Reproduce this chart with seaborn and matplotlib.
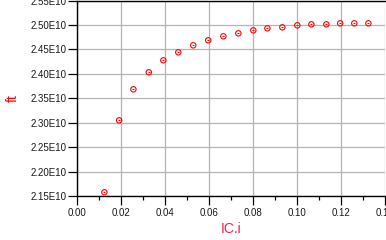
import matplotlib
matplotlib.use("Agg")
import matplotlib.pyplot as plt
from matplotlib.ticker import FuncFormatter, MultipleLocator
import seaborn as sns
import pandas as pd

# data
ic = [0.0123, 0.0190, 0.0255, 0.0325, 0.0391, 0.0459, 0.0527, 0.0595, 0.0664,
      0.0732, 0.0800, 0.0864, 0.0932, 0.1000, 0.1064, 0.1132, 0.1195, 0.1259, 0.1323]
ft = [2.1576, 2.3049, 2.3684, 2.4032, 2.4277, 2.4441, 2.4584, 2.4687, 2.4769,
      2.4830, 2.4891, 2.4932, 2.4953, 2.4994, 2.5014, 2.5014, 2.5035, 2.5035, 2.5035]
ft = [v * 1e10 for v in ft]
df = pd.DataFrame({"IC.i": ic, "ft": ft})

sns.set_style("white")
plt.rcParams["font.family"] = ["Liberation Sans", "DejaVu Sans"]

fig = plt.figure(figsize=(3.86, 2.40), dpi=100)
ax = fig.add_axes([77.3 / 386, 44 / 240, 308 / 386, 195.4 / 240])

sns.scatterplot(data=df, x="IC.i", y="ft", ax=ax, marker="o", s=15,
                facecolor="none", edgecolor="#ff0000", linewidth=0.8, zorder=3)
sns.scatterplot(data=df, x="IC.i", y="ft", ax=ax, marker="_", s=4,
                color="#ff0000", linewidth=0.7, zorder=4)

ax.set_xlim(0, 0.14)
ax.set_ylim(2.15e10, 2.55e10)
ax.xaxis.set_major_locator(MultipleLocator(0.02))
ax.xaxis.set_minor_locator(MultipleLocator(0.01))
ax.yaxis.set_major_locator(MultipleLocator(0.05e10))
ax.xaxis.set_major_formatter(FuncFormatter(lambda v, p: f"{v:.2f}"))
ax.yaxis.set_major_formatter(FuncFormatter(lambda v, p: f"{v/1e10:.2f}E10"))

ax.grid(True, which="major", color="#b4b4b4", linewidth=0.9)
ax.set_axisbelow(True)
for side in ["left", "bottom", "top"]:
    ax.spines[side].set_color("black")
    ax.spines[side].set_linewidth(1.0)
ax.spines["right"].set_visible(False)

ax.tick_params(axis="both", which="major", direction="out", length=6.5, width=0.9,
               color="black", labelsize=7, labelcolor="#1a1a1a", pad=1)
ax.tick_params(axis="x", which="minor", direction="out", length=3, width=0.9,
               color="black", bottom=True)
ax.tick_params(axis="x", which="major", pad=2)
ax.tick_params(left=True, bottom=True, top=False, right=False)

ax.set_xlabel("IC.i", color="#ff1a4a", fontsize=10)
ax.set_ylabel("ft", color="#ff0000", fontsize=10)
ax.xaxis.set_label_coords(0.5, -0.135)
ax.yaxis.set_label_coords(-0.186, 0.5)

fig.savefig("out.png", dpi=100)
